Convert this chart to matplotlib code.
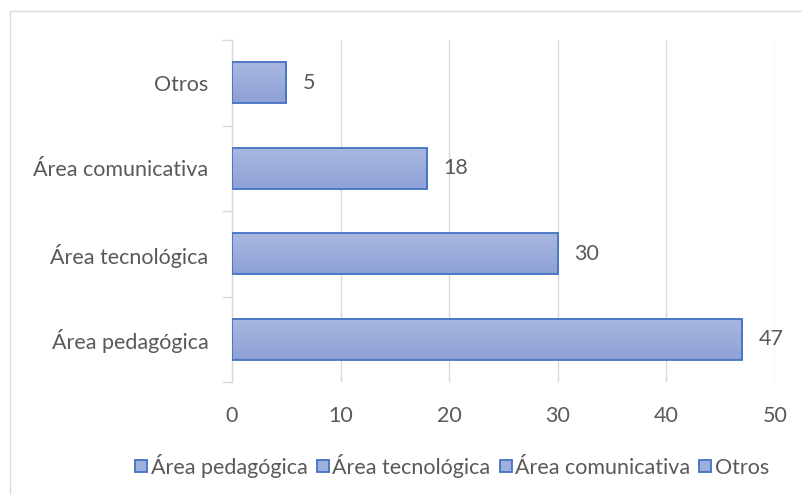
import matplotlib.pyplot as plt
import numpy as np
from matplotlib.patches import Rectangle
from matplotlib.lines import Line2D
from matplotlib.colors import LinearSegmentedColormap

categories = ['Área pedagógica', 'Área tecnológica', 'Área comunicativa', 'Otros']
values = [47, 30, 18, 5]
x_ticks = [0, 10, 20, 30, 40, 50]

plt.rcParams['font.family'] = ['Lato', 'DejaVu Sans']
text_color = '#595959'
edge_color = '#4472c4'
fs = 15.5

fig = plt.figure(figsize=(8.03, 4.95), dpi=100)
ax = fig.add_axes([232 / 803, 113 / 495, 543 / 803, 342 / 495])

# light outer frame of the chart area
fig.add_artist(Rectangle((10 / 803, -0.1), 1.2, 484 / 495 + 0.1,
                         transform=fig.transFigure, fill=False,
                         edgecolor='#d9d9d9', linewidth=1))

ypos = np.arange(len(categories))
bars = ax.barh(ypos, values, height=0.48, color='#9dafdc',
               edgecolor=edge_color, linewidth=1.3, zorder=3)

# vertical gradient inside each bar (lighter on top)
grad = np.linspace(0, 1, 100).reshape(-1, 1)
cmap = LinearSegmentedColormap.from_list('g', ['#8ea1d6', '#aab8e0'])
for b in bars:
    x0, y0 = b.get_x(), b.get_y()
    w, h = b.get_width(), b.get_height()
    im = ax.imshow(grad, cmap=cmap, aspect='auto', origin='lower',
                   extent=[x0, x0 + w, y0, y0 + h], zorder=3.5)
    im.set_clip_path(b)
    b.set_facecolor('none')
    b.set_zorder(4)

for v, y in zip(values, ypos):
    ax.text(v + 1.5, y, str(v), va='center', ha='left',
            fontsize=fs, color=text_color)

ax.set_xlim(0, 50)
ax.set_ylim(-0.5, len(categories) - 0.5)
ax.set_xticks(x_ticks)
ax.set_xticklabels([str(t) for t in x_ticks])
ax.set_yticks(ypos)
ax.set_yticklabels(categories)
ax.set_yticks(np.arange(-0.5, len(categories), 1), minor=True)

ax.grid(axis='x', color='#d9d9d9', linewidth=1, zorder=0)
for s in ['top', 'right', 'bottom']:
    ax.spines[s].set_visible(False)
ax.spines['left'].set_color('#d9d9d9')
ax.spines['left'].set_linewidth(1)

ax.tick_params(axis='x', length=0, labelsize=fs, labelcolor=text_color, pad=17.5)
ax.tick_params(axis='y', which='major', length=0, labelsize=fs,
               labelcolor=text_color, pad=17)
ax.tick_params(axis='y', which='minor', length=7, color='#d9d9d9', width=1)

handles = [Line2D([], [], marker='s', linestyle='none', markersize=9,
                  markerfacecolor='#9dafdc', markeredgecolor=edge_color,
                  markeredgewidth=1.3) for _ in categories]
fig.legend(handles, categories, loc='center', bbox_to_anchor=(452 / 803, 1 - 466 / 495),
           ncol=4, frameon=False, fontsize=fs, labelcolor=text_color,
           handletextpad=0.15, columnspacing=0.4, handlelength=0.6)

fig.savefig('out.png', dpi=100)
